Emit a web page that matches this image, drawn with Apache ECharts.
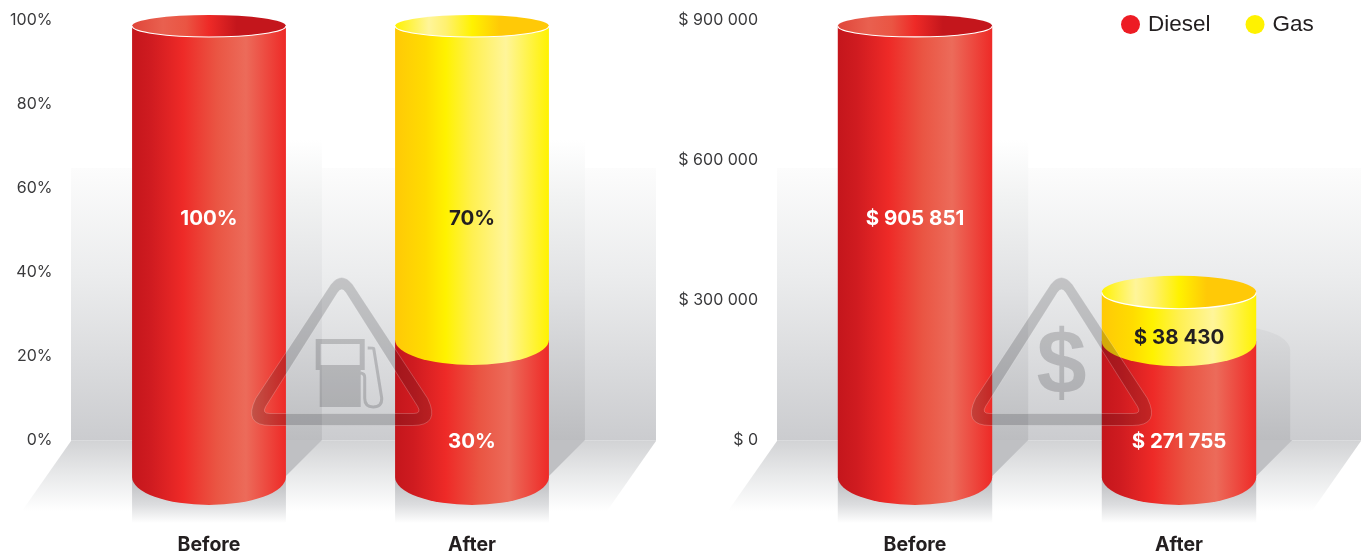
<!DOCTYPE html>
<html>
<head>
<meta charset="utf-8">
<title>Before and after</title>
<style>
  html, body { margin: 0; padding: 0; background: #fff; }
  #chart { width: 1365px; height: 556px; }
</style>
<script src="https://cdn.jsdelivr.net/npm/echarts@6/dist/echarts.min.js"></script>
</head>
<body>
<div id="chart"></div>
<script>
const categories = ['Before', 'After'];
const shareDiesel = [100, 30];
const shareGas = [null, 70];
const costDiesel = [905851, 271755];
const costGas = [null, 38430];
const shareTicks = [0, 20, 40, 60, 80, 100];
const costTicks = [0, 300000, 600000, 900000];

const TEXT = '#231f20';
const LG = echarts.graphic.LinearGradient;

const sideRed = [[0, '#c4161c'], [0.12, '#cf1b20'], [0.33, '#ee2a27'], [0.55, '#ea5543'], [0.74, '#ec6b5a'], [1, '#ee2a27']];
const capRed = [[0, '#e0463a'], [0.2, '#e9604f'], [0.35, '#ea5543'], [0.5, '#ee2a27'], [0.68, '#c4161c'], [1, '#c4161c']];
const sideYellow = [[0, '#ffc907'], [0.2, '#ffdc00'], [0.33, '#fff200'], [0.5, '#fff050'], [0.72, '#fff59a'], [1, '#fff200']];
const capYellow = [[0, '#fff200'], [0.22, '#fff59a'], [0.33, '#fff170'], [0.5, '#fff200'], [0.68, '#ffc907'], [1, '#ffc907']];

// the drawing is not to scale: each cylinder's edges are nudged off the axis value
const GROUND = { dy: 37, ry: 28 };
const looks = {
  shareDiesel: [
    { topDy: 6, topRy: 11, cap: true, base: GROUND, labelDy: -221 },
    { topDy: 26, topRy: 25, cap: false, base: GROUND, labelDy: 2 }
  ],
  shareGas: [
    null,
    { topDy: 6, topRy: 11, cap: true, base: { dy: 26, ry: 25 }, labelDy: -221 }
  ],
  costDiesel: [
    { topDy: 8.7, topRy: 11, cap: true, base: GROUND, labelDy: -221 },
    { topDy: 28, topRy: 25, cap: false, base: GROUND, labelDy: 2 }
  ],
  costGas: [
    null,
    { topDy: -3, topRy: 16.5, cap: true, base: { dy: 28, ry: 25 }, labelDy: -102 }
  ]
};

function money(v) {
  return '$ ' + String(v).replace(/\B(?=(\d{3})+$)/g, ' ');
}

function cylinder(name, xyIndex, values, bases, look, side, cap, labelColor, fmt, z) {
  return {
    type: 'custom',
    name: name,
    xAxisIndex: xyIndex,
    yAxisIndex: xyIndex,
    z: z,
    itemStyle: { color: name === 'Diesel' ? '#ed1c24' : '#fff200' },
    encode: { x: 0, y: [1, 2] },
    data: categories.map((c, i) => [i, bases[i] || 0, (bases[i] || 0) + (values[i] || 0)]),
    renderItem: function (params, api) {
      const l = look[params.dataIndex];
      if (!l) return null;
      const i = api.value(0);
      const half = api.size([1, 0])[0] * 0.2925;
      const cx = api.coord([i, 0])[0];
      const zero = api.coord([i, 0])[1];
      const x0 = cx - half;
      const x1 = cx + half;
      const yTop = api.coord([i, api.value(2)])[1] + l.topDy;
      const yBase = api.coord([i, api.value(1)])[1] + l.base.dy;
      const r = l.base.ry;
      const kids = [{
        type: 'path',
        shape: { pathData: `M${x0} ${yTop}L${x1} ${yTop}L${x1} ${yBase}A${half} ${r} 0 0 1 ${x0} ${yBase}Z` },
        style: { fill: new LG(0, 0, 1, 0, side.map(s => ({ offset: s[0], color: s[1] }))) }
      }];
      if (l.cap) {
        const t = l.topRy;
        kids.push({
          type: 'path',
          shape: { pathData: `M${x0} ${yTop}A${half} ${t} 0 0 1 ${x1} ${yTop}A${half} ${t} 0 0 1 ${x0} ${yTop}Z` },
          style: { fill: new LG(0, 0, 1, 0, cap.map(s => ({ offset: s[0], color: s[1] }))) }
        });
        kids.push({
          type: 'path',
          shape: { pathData: `M${x1} ${yTop}A${half} ${t} 0 0 1 ${x0} ${yTop}` },
          style: { fill: 'none', stroke: '#fff', lineWidth: 1.2 }
        });
      }
      kids.push({
        type: 'text',
        style: {
          text: fmt(values[params.dataIndex]),
          x: cx,
          y: zero + l.labelDy,
          fill: labelColor,
          font: 'bold 20.5px Inter, "Liberation Sans", sans-serif',
          align: 'center',
          verticalAlign: 'middle'
        }
      });
      return { type: 'group', children: kids };
    }
  };
}

// back wall and floor of one panel
function room(xyIndex, left, right) {
  return {
    type: 'custom',
    xAxisIndex: xyIndex,
    yAxisIndex: xyIndex,
    z: 1,
    silent: true,
    data: [[0, 0]],
    renderItem: function (params, api) {
      const y0 = api.coord([0, 0])[1];
      return {
        type: 'group',
        children: [
          {
            type: 'rect',
            shape: { x: left, y: y0 - 272, width: right - left, height: 273 },
            style: {
              fill: new LG(0, 0, 0, 1, [
                { offset: 0, color: '#fcfcfc' },
                { offset: 0.4, color: '#ebeced' },
                { offset: 1, color: '#cbcccf' }
              ])
            }
          },
          {
            type: 'polygon',
            shape: { points: [[left, y0 + 1], [right, y0 + 1], [right - 49, y0 + 71], [left - 49, y0 + 71]] },
            style: {
              fill: new LG(0, 0, 0, 1, [
                { offset: 0, color: '#d2d3d5' },
                { offset: 0.5, color: '#e9eaeb' },
                { offset: 1, color: '#ffffff' }
              ])
            }
          },
          {
            type: 'line',
            shape: { x1: left, y1: y0 + 0.5, x2: right, y2: y0 + 0.5 },
            style: { stroke: 'rgba(255,255,255,0.3)', lineWidth: 1 }
          }
        ]
      };
    }
  };
}

// wall shadow, floor shadow and reflection of each cylinder
function shadows(xyIndex, totals) {
  return {
    type: 'custom',
    xAxisIndex: xyIndex,
    yAxisIndex: xyIndex,
    z: 2,
    silent: true,
    data: categories.map((c, i) => [i, totals[i]]),
    renderItem: function (params, api) {
      const i = api.value(0);
      const half = api.size([1, 0])[0] * 0.2925;
      const p = api.coord([i, 0]);
      const x0 = p[0] - half;
      const x1 = p[0] + half;
      const y0 = p[1];
      const yVal = api.coord([i, api.value(1)])[1];
      const tall = yVal < 140;
      const wallPath = tall
        ? `M${x0} 140L${x1 + 36} 140L${x1 + 36} ${y0}L${x0} ${y0}Z`
        : `M${x0} ${yVal + 33}L${x1} ${yVal + 33}Q${x1 + 33} ${yVal + 40} ${x1 + 34} ${yVal + 55}L${x1 + 34} ${y0}L${x0} ${y0}Z`;
      const wallFill = tall
        ? [{ offset: 0, color: '#ffffff' }, { offset: 0.2, color: '#f1f2f2' }, { offset: 0.5, color: '#e0e1e3' }, { offset: 1, color: '#bcbdc0' }]
        : [{ offset: 0, color: '#d9dadc' }, { offset: 1, color: '#bcbdc0' }];
      return {
        type: 'group',
        children: [
          { type: 'path', shape: { pathData: wallPath }, style: { fill: new LG(0, 0, 0, 1, wallFill) } },
          {
            type: 'polygon',
            shape: { points: [[x1 - 2, y0], [x1 + 36, y0], [x1 - 2, y0 + 38]] },
            style: { fill: '#bfc0c3' }
          },
          {
            type: 'rect',
            shape: { x: x0, y: y0 + 37, width: half * 2, height: 46 },
            style: {
              fill: new LG(0, 0, 0, 1, [
                { offset: 0, color: '#b9babd' },
                { offset: 0.6, color: '#dcdddf' },
                { offset: 1, color: '#ffffff' }
              ])
            }
          }
        ]
      };
    }
  };
}

const SIGN_INK = 'rgba(20,20,25,0.19)';
const TRIANGLE = 'M78 7Q89 -7 100 7L175 121Q188 148 160 148L18 148Q-10 148 3 121Z' +
  'M93 15Q89 9 85 15L13 129Q9 136 17 136L161 136Q169 136 165 129Z';
const PUMP = 'M63 61.5H112V92.5H108V129.5H67V92.5H63ZM68 66.5V87.5H107V66.5Z';
const HOSE = 'M108 95.5Q112 96 112 100V120.5Q112 129.5 120.5 129.5Q129.5 129.5 129 120.5L121 71Q120.5 70.5 115 70.5';

// warning signs sit over the cylinders and darken whatever is under them
function sign(xyIndex, x, y, inner) {
  return {
    type: 'custom',
    xAxisIndex: xyIndex,
    yAxisIndex: xyIndex,
    z: 6,
    silent: true,
    data: [[0, 0]],
    renderItem: function () {
      return {
        type: 'group',
        x: x,
        y: y,
        children: [
          { type: 'path', shape: { pathData: TRIANGLE }, style: { fill: SIGN_INK } },
          { type: 'path', shape: { pathData: TRIANGLE }, style: { fill: 'none', stroke: 'rgba(255,255,255,0.3)', lineWidth: 0.7 } }
        ].concat(inner)
      };
    }
  };
}

const pumpIcon = [
  { type: 'path', shape: { pathData: PUMP }, style: { fill: SIGN_INK } },
  { type: 'path', shape: { pathData: HOSE }, style: { fill: 'none', stroke: SIGN_INK, lineWidth: 3 } }
];
const dollarIcon = [{
  type: 'text',
  style: {
    text: '$',
    x: 89,
    y: 91,
    fill: SIGN_INK,
    font: 'bold 90px "Liberation Sans", sans-serif',
    align: 'center',
    verticalAlign: 'middle'
  }
}];

const shareTotals = shareDiesel.map((v, i) => v + (shareGas[i] || 0));
const costTotals = costDiesel.map((v, i) => v + (costGas[i] || 0));
const axisFont = { fontFamily: 'Inter, "Liberation Sans", sans-serif', fontSize: 16, color: '#3a3a3c', padding: [4, 0, 0, 0] };

function xAxisFor(grid) {
  return {
    type: 'category',
    gridIndex: grid,
    data: categories,
    axisLine: { show: false },
    axisTick: { show: false },
    axisLabel: {
      margin: 95,
      color: TEXT,
      fontFamily: 'Inter, "Liberation Sans", sans-serif',
      fontSize: 19.5,
      fontWeight: 'bold'
    }
  };
}

function yAxisFor(grid, ticks, margin, fmt) {
  return {
    type: 'value',
    gridIndex: grid,
    min: ticks[0],
    max: ticks[ticks.length - 1],
    interval: ticks[1] - ticks[0],
    axisLine: { show: false },
    axisTick: { show: false },
    splitLine: { show: false },
    axisLabel: Object.assign({ margin: margin, formatter: fmt }, axisFont)
  };
}

const myChart = echarts.init(document.getElementById('chart'));

const option = {
  backgroundColor: '#fff',
  animation: false,
  grid: [
    { left: 77.5, top: 20, width: 526, height: 420 },
    { left: 783, top: 20, width: 528, height: 420 }
  ],
  legend: {
    data: [
      { name: 'Diesel', icon: 'circle', itemStyle: { color: '#ed1c24' } },
      { name: 'Gas', icon: 'circle', itemStyle: { color: '#fff200' } }
    ],
    left: 1121,
    top: 13,
    padding: 0,
    itemWidth: 19,
    itemHeight: 19,
    itemGap: 35,
    selectedMode: false,
    textStyle: { color: TEXT, fontFamily: '"Liberation Sans", sans-serif', fontSize: 22.5, padding: [0, 0, 0, 3] }
  },
  xAxis: [xAxisFor(0), xAxisFor(1)],
  yAxis: [
    yAxisFor(0, shareTicks, 25, v => v + '%'),
    yAxisFor(1, costTicks, 25, money)
  ],
  series: [
    room(0, 71, 656),
    room(1, 777, 1361),
    shadows(0, shareTotals),
    shadows(1, costTotals),
    cylinder('Diesel', 0, shareDiesel, [0, 0], looks.shareDiesel, sideRed, capRed, '#fff', v => v + '%', 3),
    cylinder('Gas', 0, shareGas, shareDiesel, looks.shareGas, sideYellow, capYellow, TEXT, v => v + '%', 4),
    cylinder('Diesel', 1, costDiesel, [0, 0], looks.costDiesel, sideRed, capRed, '#fff', money, 3),
    cylinder('Gas', 1, costGas, costDiesel, looks.costGas, sideYellow, capYellow, TEXT, money, 4),
    sign(0, 252.7, 277.5, pumpIcon),
    sign(1, 972.5, 277.5, dollarIcon)
  ]
};

myChart.setOption(option);
window.addEventListener('resize', myChart.resize);
</script>
</body>
</html>
